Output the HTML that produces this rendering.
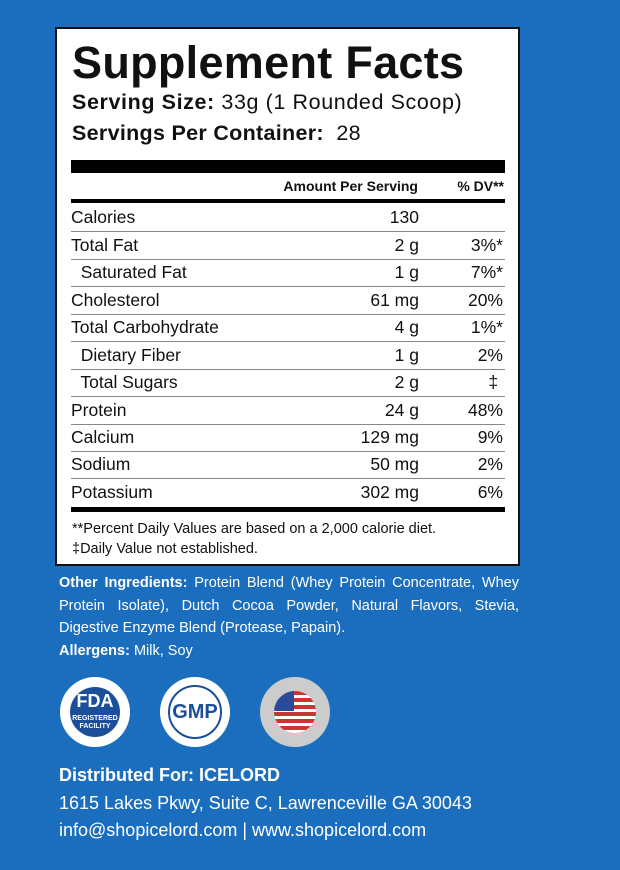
<!DOCTYPE html>
<html><head><style>
body{margin:0;width:620px;height:870px;background:#1b6ebd;font-family:"Liberation Sans",sans-serif;position:relative;overflow:hidden;color:#fff}
.box{position:absolute;left:55px;top:27px;width:461px;height:535px;background:#fff;border:2px solid #111;color:#111}
.t{position:absolute;white-space:nowrap}
.bar{position:absolute;left:14px;width:434px;background:#000}
.row{position:absolute;left:14px;width:434px;height:27px;font-size:17.5px;border-bottom:1px solid #888}
.row span{position:absolute;top:3px}
.a{right:86px}.d{right:2px}
.ing{position:absolute;left:59px;width:460px;font-size:14.5px;line-height:22.7px;text-align:justify}
.badge{position:absolute;width:70px;height:70px;border-radius:50%;top:677px}
</style></head><body>
<div class="box">
<div class="t" style="left:15px;top:8px;font-size:45px;font-weight:bold;letter-spacing:0.3px">Supplement Facts</div>
<div class="t" style="left:15px;top:61px;font-size:21.5px;letter-spacing:0.6px"><b>Serving Size:</b> 33g (1 Rounded Scoop)</div>
<div class="t" style="left:15px;top:92px;font-size:21.5px;letter-spacing:0.3px"><b>Servings Per Container:</b>&nbsp; 28</div>
<div class="bar" style="top:131px;height:13px"></div>
<div class="t" style="right:100px;top:149px;font-size:14px;font-weight:bold">Amount Per Serving</div>
<div class="t" style="right:14px;top:149px;font-size:14px;font-weight:bold">% DV**</div>
<div class="bar" style="top:170px;height:4px"></div>
<div class="row" style="top:175px"><span>Calories</span><span class="a">130</span></div>
<div class="row" style="top:203px"><span>Total Fat</span><span class="a">2 g</span><span class="d">3%*</span></div>
<div class="row" style="top:230px"><span>&nbsp; Saturated Fat</span><span class="a">1 g</span><span class="d">7%*</span></div>
<div class="row" style="top:258px"><span>Cholesterol</span><span class="a">61 mg</span><span class="d">20%</span></div>
<div class="row" style="top:285px"><span>Total Carbohydrate</span><span class="a">4 g</span><span class="d">1%*</span></div>
<div class="row" style="top:313px"><span>&nbsp; Dietary Fiber</span><span class="a">1 g</span><span class="d">2%</span></div>
<div class="row" style="top:340px"><span>&nbsp; Total Sugars</span><span class="a">2 g</span><span class="d">‡&nbsp;</span></div>
<div class="row" style="top:368px"><span>Protein</span><span class="a">24 g</span><span class="d">48%</span></div>
<div class="row" style="top:395px"><span>Calcium</span><span class="a">129 mg</span><span class="d">9%</span></div>
<div class="row" style="top:422px"><span>Sodium</span><span class="a">50 mg</span><span class="d">2%</span></div>
<div class="row" style="top:450px;border:none"><span>Potassium</span><span class="a">302 mg</span><span class="d">6%</span></div>
<div class="bar" style="top:478px;height:5px"></div>
<div class="t" style="left:15px;top:492px;font-size:14.5px">**Percent Daily Values are based on a 2,000 calorie diet.</div>
<div class="t" style="left:15px;top:512px;font-size:14.5px">‡Daily Value not established.</div>
</div>
<div class="ing" style="top:572px"><b>Other Ingredients:</b> Protein Blend (Whey Protein Concentrate, Whey Protein Isolate), Dutch Cocoa Powder, Natural Flavors, Stevia, Digestive Enzyme Blend (Protease, Papain).<br><b>Allergens:</b> Milk, Soy</div>
<div class="badge" style="left:60px;background:#fff"><div style="position:absolute;left:10px;top:10px;width:50px;height:50px;border-radius:50%;background:#1b4f9a;text-align:center;font-weight:bold;font-size:18px;line-height:28px">FDA<div style="font-size:7px;line-height:8px">REGISTERED<br>FACILITY</div></div></div>
<div class="badge" style="left:160px;background:#fff;border:0"><div style="position:absolute;left:8px;top:8px;width:50px;height:50px;border-radius:50%;border:2px solid #1b4f9a;color:#1b4f9a;text-align:center;font-weight:bold;font-size:20px;line-height:50px">GMP</div></div>
<div class="badge" style="left:260px;background:#ccc"><div style="position:absolute;left:14px;top:14px;width:42px;height:42px;border-radius:50%;overflow:hidden;background:repeating-linear-gradient(#c33 0 4px,#fff 4px 7px)"><div style="width:20px;height:20px;background:#2a4a9a"></div></div></div>
<div class="t" style="left:59px;top:765px;font-size:18px;font-weight:bold">Distributed For: ICELORD</div>
<div class="t" style="left:59px;top:793px;font-size:18px">1615 Lakes Pkwy, Suite C, Lawrenceville GA 30043</div>
<div class="t" style="left:59px;top:820px;font-size:18px">info@shopicelord.com | www.shopicelord.com</div>
</body></html>
